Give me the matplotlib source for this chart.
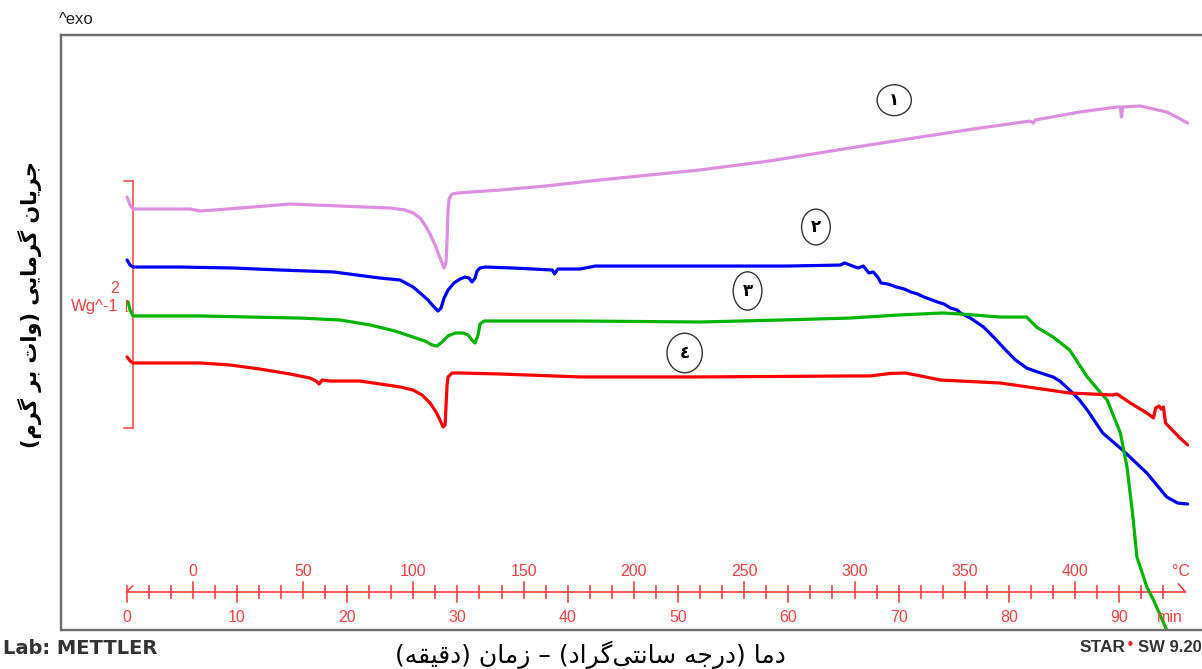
import matplotlib
matplotlib.use("Agg")
import matplotlib.pyplot as plt
from matplotlib.lines import Line2D
from matplotlib.patches import Ellipse

# ---------------- data: time (min) and heat flow (W/g, offset per curve) ----------------
t1 = [0.05, 0.32, 0.59, 3.04, 5.76, 6.66, 8.02, 10.29, 12.56, 14.82, 17.09, 19.36, 21.62,
      23.89, 25.25, 25.98, 26.61, 27.06, 27.52, 27.97, 28.42, 28.79, 28.97, 29.06, 29.15,
      29.24, 29.51, 29.96, 33.9, 38.0, 42.9, 52.0, 58.3, 65.6, 72.0, 77.4, 81.9, 82.2,
      82.4, 86.4, 89.8, 90.1, 90.2, 90.3, 91.9, 94.3, 95.2, 96.2]
hf1 = [3.506, 3.441, 3.409, 3.409, 3.409, 3.393, 3.401, 3.417, 3.433, 3.449, 3.441, 3.433,
       3.425, 3.417, 3.401, 3.377, 3.336, 3.279, 3.206, 3.117, 3.012, 2.931, 2.980, 3.158,
       3.401, 3.490, 3.530, 3.538, 3.563, 3.595, 3.644, 3.725, 3.798, 3.903, 3.992, 4.065,
       4.121, 4.105, 4.130, 4.194, 4.235, 4.235, 4.154, 4.235, 4.243, 4.194, 4.154, 4.105]

t2 = [0.05, 0.32, 0.59, 4.85, 9.66, 13.92, 18.77, 22.98, 24.80, 25.98, 26.61, 27.33, 27.88,
      28.24, 28.51, 28.79, 29.15, 29.69, 30.24, 30.69, 31.05, 31.32, 31.60, 31.78, 32.05,
      32.50, 35.04, 38.6, 38.8, 39.1, 41.1, 42.5, 52.0, 60.0, 64.7, 65.1, 65.6, 66.3,
      66.8, 67.3, 67.7, 68.1, 68.4, 69.0, 69.8, 70.5, 71.1, 71.7, 72.3, 72.8, 73.5, 74.1,
      74.7, 75.3, 75.6, 76.5, 77.7, 78.6, 79.7, 80.6, 81.6, 82.6, 84.0, 84.6, 85.5, 86.4,
      87.1, 88.5, 90.3, 92.5, 94.3, 95.3, 96.2]
hf2 = [2.996, 2.955, 2.939, 2.939, 2.931, 2.915, 2.899, 2.850, 2.834, 2.777, 2.729, 2.672,
       2.615, 2.583, 2.607, 2.688, 2.753, 2.810, 2.842, 2.858, 2.850, 2.818, 2.850, 2.907,
       2.931, 2.939, 2.931, 2.915, 2.883, 2.923, 2.923, 2.947, 2.947, 2.947, 2.955, 2.972,
       2.955, 2.931, 2.947, 2.891, 2.899, 2.858, 2.810, 2.802, 2.777, 2.761, 2.737, 2.721,
       2.696, 2.680, 2.656, 2.640, 2.607, 2.591, 2.567, 2.526, 2.453, 2.372, 2.267, 2.186,
       2.121, 2.089, 2.049, 2.016, 1.943, 1.862, 1.781, 1.595, 1.457, 1.271, 1.077, 1.028,
       1.020]

t3 = [0.14, 0.32, 0.59, 6.66, 11.20, 15.73, 19.36, 22.08, 24.34, 25.98, 27.06, 27.70, 28.15,
      28.61, 29.15, 29.78, 30.51, 30.96, 31.32, 31.60, 31.87, 32.05, 32.42, 33.86, 41.1,
      52.0, 59.3, 65.6, 70.1, 74.0, 75.6, 79.2, 81.6, 82.5, 84.0, 85.5, 87.1, 88.1, 88.9,
      90.1, 90.7, 91.2, 91.6, 92.5, 93.1, 94.3, 95.0]
hf3 = [2.656, 2.591, 2.543, 2.543, 2.534, 2.526, 2.510, 2.470, 2.421, 2.372, 2.340, 2.308,
       2.300, 2.332, 2.381, 2.405, 2.405, 2.389, 2.348, 2.324, 2.389, 2.478, 2.502, 2.502,
       2.502, 2.494, 2.510, 2.526, 2.551, 2.567, 2.559, 2.534, 2.534, 2.453, 2.372, 2.267,
       2.049, 1.943, 1.862, 1.595, 1.320, 0.947, 0.591, 0.348, 0.243, 0.000, -0.162]

t4 = [0.05, 0.32, 0.59, 6.66, 9.38, 12.10, 14.82, 16.64, 17.18, 17.46, 17.73, 18.45, 21.17,
      22.98, 24.80, 25.98, 26.79, 27.52, 28.06, 28.42, 28.70, 28.88, 28.97, 29.06, 29.15,
      29.51, 30.24, 33.86, 41.1, 52.0, 65.6, 67.4, 69.2, 70.6, 72.0, 73.8, 79.2, 85.5,
      89.4, 89.8, 91.0, 92.5, 93.1, 93.3, 93.6, 93.8, 94.0, 94.2, 94.8, 95.5, 96.2]
hf4 = [2.211, 2.178, 2.162, 2.162, 2.146, 2.113, 2.073, 2.040, 2.016, 1.992, 2.024, 2.016,
       2.016, 1.992, 1.968, 1.943, 1.903, 1.838, 1.765, 1.700, 1.644, 1.660, 1.822, 1.984,
       2.049, 2.081, 2.081, 2.073, 2.049, 2.049, 2.057, 2.057, 2.077, 2.081, 2.057, 2.024,
       2.000, 1.919, 1.903, 1.911, 1.838, 1.757, 1.717, 1.798, 1.814, 1.789, 1.806, 1.676,
       1.619, 1.555, 1.498]

curve_colors = ["#dd8ee0", "#0000ff", "#00b400", "#ff0000"]
curve_tags = ["\u0661", "\u0662", "\u0663", "\u0664"]
tag_pos = [(69.6, 4.29), (62.5, 3.263), (56.3, 2.745), (50.6, 2.243)]
tag_size = [(3.1, 0.25), (2.6, 0.29), (2.6, 0.31), (3.2, 0.32)]

time_labels = [0, 10, 20, 30, 40, 50, 60, 70, 80, 90]
temp_labels = [0, 50, 100, 150, 200, 250, 300, 350, 400]
heating_rate = 5.0      # K/min
temp_start = -30.0      # degC at t = 0
scale_bar = (1.636, 3.636)   # 2 W/g

ylabel_fa = "جریان گرمایی (وات بر گرم)"
xlabel_fa = "دما (درجه سانتی\u200cگراد) \u2013 زمان (دقیقه)"

# ---------------- minimal Arabic-script shaping for matplotlib ----------------
DUAL = {
    "ب": "\uFE8F\uFE90\uFE91\uFE92", "ت": "\uFE95\uFE96\uFE97\uFE98",
    "ج": "\uFE9D\uFE9E\uFE9F\uFEA0", "س": "\uFEB1\uFEB2\uFEB3\uFEB4",
    "ق": "\uFED5\uFED6\uFED7\uFED8", "م": "\uFEE1\uFEE2\uFEE3\uFEE4",
    "ن": "\uFEE5\uFEE6\uFEE7\uFEE8", "ه": "\uFEE9\uFEEA\uFEEB\uFEEC",
    "ی": "\uFBFC\uFBFD\uFEF3\uFEF4", "گ": "\uFB92\uFB93\uFB94\uFB95",
}
RIGHT = {"ا": "\uFE8D\uFE8E", "د": "\uFEA9\uFEAA", "ر": "\uFEAD\uFEAE",
         "ز": "\uFEAF\uFEB0", "و": "\uFEED\uFEEE"}


def shape(s):
    out = []
    for i, c in enumerate(s):
        if c not in DUAL and c not in RIGHT:
            out.append(c)
            continue
        prev = s[i - 1] if i > 0 else ""
        nxt = s[i + 1] if i + 1 < len(s) else ""
        jp = prev in DUAL
        jn = c in DUAL and (nxt in DUAL or nxt in RIGHT)
        if c in RIGHT:
            out.append(RIGHT[c][1] if jp else RIGHT[c][0])
        else:
            idx = 3 if (jp and jn) else 1 if jp else 2 if jn else 0
            out.append(DUAL[c][idx])
    vis = "".join(reversed(out)).translate(str.maketrans("()", ")("))
    return vis.replace("\u200c", "")


# ---------------- figure ----------------
W, H = 1202, 669
fig = plt.figure(figsize=(W / 100, H / 100), dpi=100)
fig.patch.set_facecolor("white")

ax_l, ax_b, ax_w, ax_h = 61, 39, 1141, 595
ax = fig.add_axes([ax_l / W, ax_b / H, ax_w / W, ax_h / H])
ax.set_xlim(-5.94, 97.5)
ax.set_ylim(0, ax_h / 123.5)
ax.axis("off")
px_y = (ax.get_ylim()[1] - ax.get_ylim()[0]) / ax_h
px_x = (ax.get_xlim()[1] - ax.get_xlim()[0]) / ax_w

# frame
frame_c = "#6e6e6e"
fig.add_artist(Line2D([ax_l / W, 1], [1 - 35 / H] * 2, color=frame_c, lw=1.7))
fig.add_artist(Line2D([ax_l / W] * 2, [1 - 35 / H, 1 - 630 / H], color=frame_c, lw=1.7))
fig.add_artist(Line2D([ax_l / W, 1], [1 - 630 / H] * 2, color=frame_c, lw=1.7))

# curves
for t, hf, c in zip([t1, t2, t3, t4], [hf1, hf2, hf3, hf4], curve_colors):
    ax.plot(t, hf, color=c, lw=2.3, solid_joinstyle="round", solid_capstyle="round",
            zorder=3)

# curve tags
for (cx, cy), (ew, eh), tag in zip(tag_pos, tag_size, curve_tags):
    ax.add_patch(Ellipse((cx, cy), ew, eh, fill=False, ec="#333333", lw=1.0, zorder=4))
    ax.text(cx, cy, tag, ha="center", va="center", fontsize=12, color="black",
            family=["DejaVu Sans"], fontweight="bold", zorder=5)

# scale bar
red = "#ff4040"
xb = 0.59
ax.plot([xb, xb], scale_bar, color=red, lw=1.1)
for yv in scale_bar:
    ax.plot([xb - 9 * px_x, xb], [yv, yv], color=red, lw=1.1)
ax.text(xb - 18 * px_x, (630 - 289) / 123.5, "2", color=red, fontsize=11.5,
        ha="center", va="center", family="Liberation Sans")
ax.text(xb - 14 * px_x, (630 - 307) / 123.5, "Wg^-1", color=red, fontsize=12,
        ha="right", va="center", family="Liberation Sans")
ax.text(xb - 9 * px_x, (630 - 306) / 123.5, "[", color=red, fontsize=9,
        ha="left", va="center", family="Liberation Sans")

# time / temperature axis
ya = (630 - 592) * px_y
t_end = 96.0
ax.plot([0, t_end], [ya, ya], color=red, lw=1.2)
for tk in range(0, 96, 2):
    lo, hi = 6, 6
    if tk % 10 == 0:
        hi = 10
    if (tk - 6) % 10 == 0 and tk >= 6:
        lo = 10
    ax.plot([tk, tk], [ya - hi * px_y, ya + lo * px_y], color=red, lw=1.2)
ax.plot([0, 6 * px_x], [ya, ya + 6 * px_y], color=red, lw=1.2)
ax.plot([t_end - 7 * px_x, t_end], [ya + 8 * px_y, ya], color=red, lw=1.2)

for tl in time_labels:
    ax.text(tl, ya - 25 * px_y, str(tl), color=red, fontsize=11.5, ha="center",
            va="center", family="Liberation Sans")
for T in temp_labels:
    ax.text((T - temp_start) / heating_rate, ya + 21 * px_y, str(T), color=red,
            fontsize=11.5, ha="center", va="center", family="Liberation Sans")
ax.text(95.6, ya + 21 * px_y, "°C", color=red, fontsize=11.5, ha="center", va="center",
        family="Liberation Sans")
ax.text(94.6, ya - 25 * px_y, "min", color=red, fontsize=11.5, ha="center", va="center",
        family="Liberation Sans")

# header / footer texts
fig.text(59 / W, 1 - 20 / H, "^exo", fontsize=12, ha="left", va="center",
         family="Liberation Sans", color="#222222")
fig.text(3 / W, 1 - 648 / H, "Lab: METTLER", fontsize=14, ha="left", va="center",
         family="DejaVu Sans", fontweight="bold", color="#333333")
fig.text(1138 / W, 1 - 648 / H, "SW 9.20", fontsize=12, ha="left", va="center",
         family="Liberation Sans", fontweight="bold", color="#333333")
fig.text(1126 / W, 1 - 645 / H, "\u2022", fontsize=11, ha="left", va="center",
         family="DejaVu Sans", color="#ff2020")
fig.text(1126 / W, 1 - 648 / H, "STAR", fontsize=12.5, ha="right", va="center",
         family="Liberation Sans", fontweight="bold", color="#333333")

# axis titles (Persian)
fig.text(30 / W, 1 - 305 / H, shape(ylabel_fa), rotation=90, fontsize=15,
         fontweight="bold", ha="center", va="center", family=["DejaVu Sans"], color="black")
fig.text(590 / W, 1 - 655 / H, shape(xlabel_fa), fontsize=18, ha="center", va="center",
         family=["DejaVu Sans"], color="black")

fig.savefig("out.png", dpi=100, facecolor="white")
